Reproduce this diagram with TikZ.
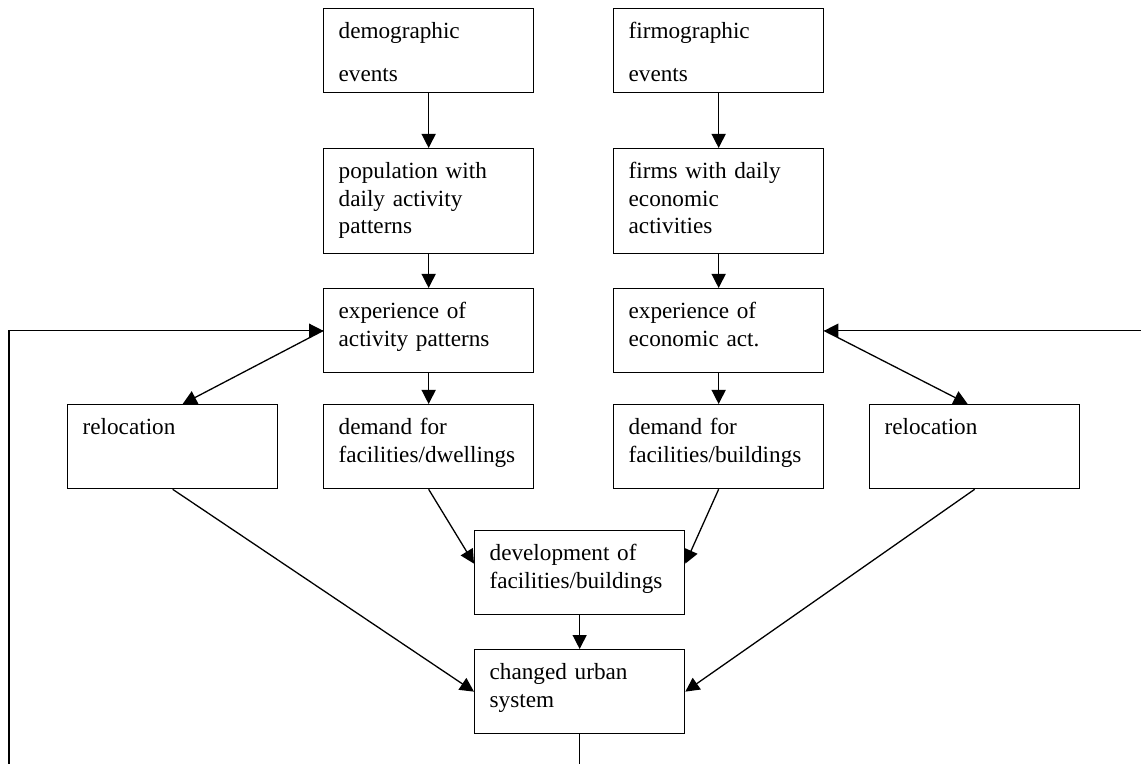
\documentclass[tikz,border=0pt]{standalone}
\usepackage{fontspec}
\setmainfont{Liberation Serif}
\usetikzlibrary{arrows.meta,calc}

\begin{document}
\begin{tikzpicture}[>={Triangle[length=7pt,width=7pt]},x=0.5pt,y=-0.5pt,line width=0.65pt,
  font=\fontsize{11.6}{13.75}\selectfont,
  blk/.style={draw,anchor=north west,text width=90pt,inner xsep=7.5pt,inner ysep=0pt,
    align=left,text height=15pt,text depth=#1},
  blk/.default=27pt]
\useasboundingbox (0,0) rectangle (1141,764);
\node[blk] (demo) at (323,8) {demographic\\[7.75pt]events};
\node[blk] (firmo) at (613,8) {firmographic\\[7.75pt]events};
\node[blk=37.5pt] (pop) at (323,148) {population with\\daily activity\\patterns};
\node[blk=37.5pt] (firms) at (613,148) {firms with daily\\economic\\activities};
\node[blk] (expA) at (323,288) {experience of\\activity patterns};
\node[blk] (expE) at (613,288) {experience of\\economic act.};
\node[blk] (relL) at (67,404) {relocation};
\node[blk] (demD) at (323,404) {demand for\\facilities/dwellings};
\node[blk] (demB) at (613,404) {demand for\\facilities/buildings};
\node[blk] (relR) at (869,404) {relocation};
\node[blk] (dev) at (474,530) {development of\\facilities/buildings};
\node[blk] (urban) at (474,649) {changed urban\\system};
\coordinate (loopL) at (9,764);
\coordinate (loopR) at (1141,330);
\coordinate (loopB) at (579,764);
\draw[->] (demo) -- (pop);
\draw[->] (pop) -- (expA);
\draw[->] (expA) -- (demD);
\draw[->] (firmo) -- (firms);
\draw[->] (firms) -- (expE);
\draw[->] (expE) -- (demB);
\draw[->] (expA.west) -- ([xshift=5pt]relL.north);
\draw[->] (expE.east) -- ([xshift=-3.5pt]relR.north);
\draw[->] (demD.south) -- ([yshift=4.5pt]dev.west);
\draw[->] (demB.south) -- ([yshift=4.5pt]dev.east);
\draw[->] (relL.south) -- (urban.west);
\draw[->] (relR.south) -- (urban.east);
\draw[->] (dev) -- (urban);
\draw (urban.south) -- (urban.south |- loopB);
\draw[->] (loopL) |- (expA.west);
\draw[->] (loopR |- expE.east) -- (expE.east);
\end{tikzpicture}
\end{document}
